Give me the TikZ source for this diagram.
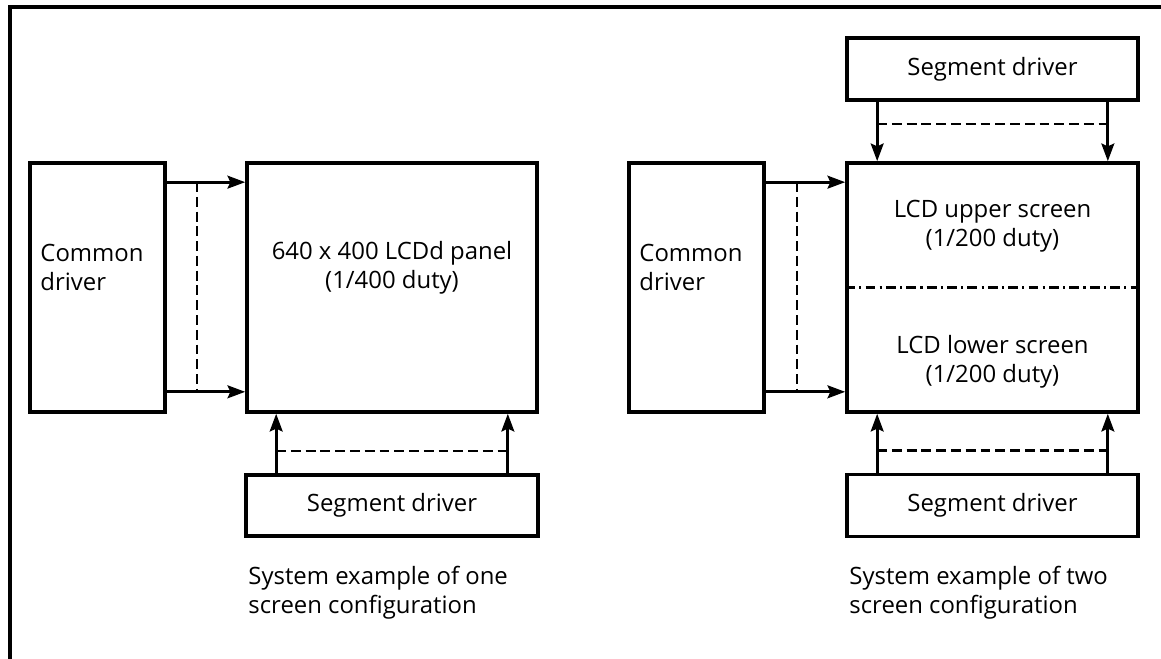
\documentclass[tikz,border=0pt]{standalone}
\usepackage{fontspec}
\setmainfont{Open Sans}
\usetikzlibrary{arrows.meta,positioning}

\begin{document}
\begin{tikzpicture}[
  box/.style={draw, line width=2.6pt, inner sep=0pt, minimum width=#1},
  box/.default=3.375cm,
  txt/.style={font=\fontsize{17}{20.5}\selectfont, align=center, inner sep=0pt},
  msg/.style={-{Stealth[length=4.4mm, width=3.2mm, inset=0.7mm]}, line width=2pt},
  bus/.style={line width=1.7pt, dash pattern=on 7pt off 3.5pt},
  split/.style={line width=1.6pt, dash pattern=on 7pt off 3pt on 1.5pt off 3pt}
]
\useasboundingbox (0,0) rectangle (29.025,16.475);
\draw[line width=2.6pt] (0.25,0) -- (0.25,16.3) -- (29.025,16.3);

\node[box, minimum height=6.225cm] (cdA) at (2.4375,9.2875) {};
\node[box=7.25cm, minimum height=6.225cm] (panA) at (9.8,9.2875) {};
\node[box=7.3cm, minimum height=1.525cm, txt] (segA) at (9.8,3.8375) {Segment driver};
\node[txt, anchor=west, align=left] at ([xshift=0.3cm, yshift=0.5cm]cdA.west) {Common\\driver};
\node[txt] at ([yshift=0.5cm]panA.center) {640 x 400 LCDd panel\\(1/400 duty)};

\coordinate (a1) at ([yshift=-0.525cm]cdA.north east);
\coordinate (a2) at ([yshift=0.55cm]cdA.south east);
\draw[msg] (a1) -- (a1 -| panA.west);
\draw[msg] (a2) -- (a2 -| panA.west);
\draw[bus] ([xshift=0.75cm]a1) -- ([xshift=0.75cm]a2);

\coordinate (s1) at ([xshift=0.8cm]segA.north west);
\coordinate (s2) at ([xshift=-0.8cm]segA.north east);
\draw[msg] (s1) -- (s1 |- panA.south);
\draw[msg] (s2) -- (s2 |- panA.south);
\draw[bus] ([yshift=0.55cm]s1) -- ([yshift=0.55cm]s2);

\node[txt, anchor=north west, align=left] at ([xshift=0.1cm, yshift=-0.7cm]segA.south west)
  {System example of one\\screen configuration};

\node[box, minimum height=6.225cm] (cdB) at (17.4125,9.2875) {};
\node[box=7.275cm, minimum height=6.225cm] (lcd) at (24.8125,9.2875) {};
\node[box=7.275cm, minimum height=1.55cm, txt] (segT) at (24.8125,14.75) {Segment driver};
\node[box=7.275cm, minimum height=1.55cm, txt] (segB) at (24.8125,3.8375) {Segment driver};
\node[txt, anchor=west, align=left] at ([xshift=0.3cm, yshift=0.5cm]cdB.west) {Common\\driver};
\node[txt] (up) at ([yshift=-1.625cm]lcd.north) {LCD upper screen\\(1/200 duty)};
\node[txt] (low) at ([yshift=1.3cm]lcd.south) {LCD lower screen\\(1/200 duty)};
\draw[split] (lcd.west) -- (lcd.east);

\coordinate (b1) at ([yshift=-0.525cm]cdB.north east);
\coordinate (b2) at ([yshift=0.55cm]cdB.south east);
\draw[msg] (b1) -- (b1 -| lcd.west);
\draw[msg] (b2) -- (b2 -| lcd.west);
\draw[bus] ([xshift=0.775cm]b1) -- ([xshift=0.775cm]b2);

\coordinate (t1) at ([xshift=0.8cm]segT.south west);
\coordinate (t2) at ([xshift=-0.8cm]segT.south east);
\draw[msg] (t1) -- (t1 |- lcd.north);
\draw[msg] (t2) -- (t2 |- lcd.north);
\draw[bus] ([yshift=-0.55cm]t1) -- ([yshift=-0.55cm]t2);

\coordinate (u1) at ([xshift=0.8cm]segB.north west);
\coordinate (u2) at ([xshift=-0.8cm]segB.north east);
\draw[msg] (u1) -- (u1 |- lcd.south);
\draw[msg] (u2) -- (u2 |- lcd.south);
\draw[bus] ([yshift=0.55cm]u1) -- ([yshift=0.55cm]u2);

\node[txt, anchor=north west, align=left] at ([xshift=0.1cm, yshift=-0.7cm]segB.south west)
  {System example of two\\screen configuration};
\end{tikzpicture}
\end{document}
